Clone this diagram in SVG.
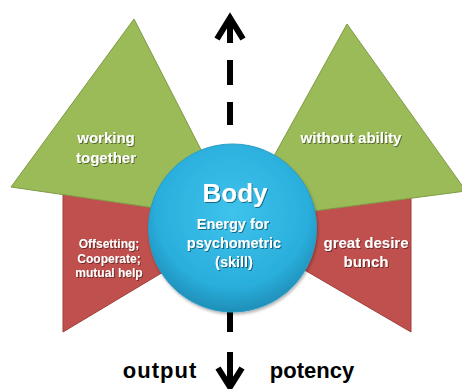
<svg xmlns="http://www.w3.org/2000/svg" width="462" height="389" viewBox="0 0 462 389">
<defs>
<radialGradient id="gBlue" cx="0.5" cy="0.4" r="0.6">
<stop offset="0" stop-color="#3EC3EC"/>
<stop offset="0.75" stop-color="#2AAEDC"/>
<stop offset="1" stop-color="#1E8FB8"/>
</radialGradient>
<filter id="ts" x="-10%" y="-20%" width="130%" height="150%">
<feDropShadow dx="1" dy="1" stdDeviation="0.6" flood-color="#000" flood-opacity="0.45"/>
</filter>
<filter id="sh" x="-10%" y="-10%" width="130%" height="130%">
<feDropShadow dx="1" dy="2" stdDeviation="1.5" flood-color="#000" flood-opacity="0.3"/>
</filter>
</defs>
<style>
.green{fill:#9BBB59;stroke:#7E9B45;stroke-width:1}
.red{fill:#C0504D;stroke:#A03E3B;stroke-width:1}
.wt{fill:#fff;font-family:"Liberation Sans",Arial,sans-serif;font-weight:bold;text-anchor:middle;filter:url(#ts)}
.bt{fill:#000;font-family:"Liberation Sans",Arial,sans-serif;font-weight:bold;font-size:22px;text-anchor:middle}
.ar{stroke:#000;stroke-width:6;fill:none}
</style>
<rect width="462" height="389" fill="#fff"/>
<g id="connectors">
<line class="ar" x1="230" y1="18" x2="230" y2="43"/>
<path class="ar" d="M217,39 L230,18 L243,39" stroke-linejoin="miter"/>
<line class="ar" x1="230" y1="60" x2="230" y2="85"/>
<line class="ar" x1="230" y1="102" x2="230" y2="125"/>
<line class="ar" x1="230" y1="300" x2="230" y2="332"/>
<line class="ar" x1="230" y1="352" x2="230" y2="386"/>
<path class="ar" d="M218,368 L230,387 L242,368" stroke-linejoin="miter"/>
</g>
<g id="red-left">
<polygon class="red" points="63,190 235,214 235,229 63,332"/>
<text class="wt" font-size="12" x="109" y="248">Offsetting;</text>
<text class="wt" font-size="12" x="109" y="263">Cooperate;</text>
<text class="wt" font-size="12" x="109" y="277">mutual help</text>
</g>
<g id="red-right">
<polygon class="red" points="411,197 229,215 229,226 411,332"/>
<text class="wt" font-size="15" x="366" y="248">great desire</text>
<text class="wt" font-size="15" x="366" y="267">bunch</text>
</g>
<g id="green-left">
<polygon class="green" points="134,19 11,187 237,220"/>
<text class="wt" font-size="15" x="106" y="143">working</text>
<text class="wt" font-size="15" x="106" y="163">together</text>
</g>
<g id="green-right">
<polygon class="green" points="347,24 238,221 466,191"/>
<text class="wt" font-size="15" x="351" y="143">without ability</text>
</g>
<g id="body">
<circle cx="232.5" cy="228" r="84" fill="url(#gBlue)" stroke="#2A9CC4" stroke-width="1" filter="url(#sh)"/>
<text class="wt" font-size="26" x="235" y="202">Body</text>
<text class="wt" font-size="14.5" x="233" y="229">Energy for</text>
<text class="wt" font-size="14.5" x="234" y="248">psychometric</text>
<text class="wt" font-size="14.5" x="234" y="267">(skill)</text>
</g>
<g id="labels">
<text class="bt" x="160" y="378" letter-spacing="1">output</text>
<text class="bt" x="312" y="378">potency</text>
</g>
</svg>
